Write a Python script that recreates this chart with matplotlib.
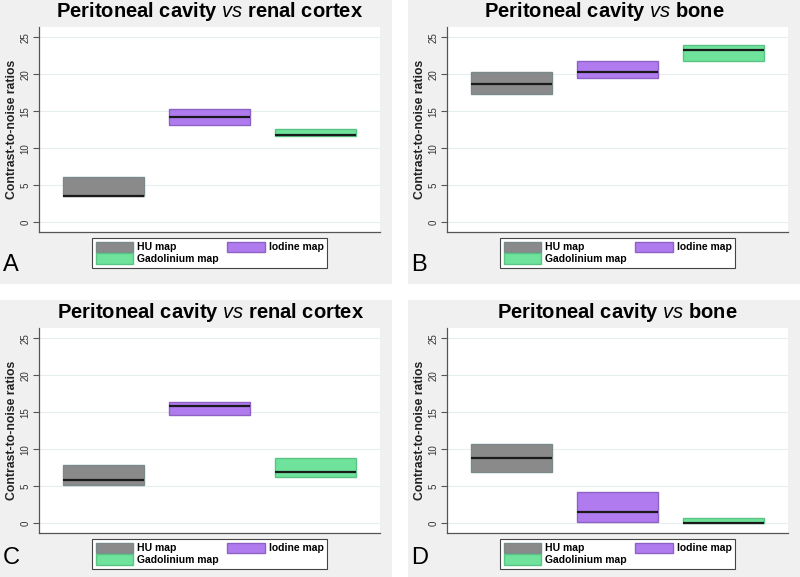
import numpy as np
import matplotlib.pyplot as plt
from matplotlib.patches import Rectangle, Patch

plt.rcParams['font.family'] = ['Liberation Sans', 'DejaVu Sans']
plt.rcParams['mathtext.fontset'] = 'custom'
plt.rcParams['mathtext.it'] = 'Liberation Sans:italic'
plt.rcParams['mathtext.rm'] = 'Liberation Sans'

# data (box = 25th pct, median, 75th pct)
maps = ['HU map', 'Iodine map', 'Gadolinium map']
colors = ['#8a8a8a', '#b07bef', '#6fe39b']
edges = ['#7a8a8a', '#8e62c4', '#5cc387']

titles = ['Peritoneal cavity $\\it{vs}$ renal cortex', 'Peritoneal cavity $\\it{vs}$ bone',
          'Peritoneal cavity $\\it{vs}$ renal cortex', 'Peritoneal cavity $\\it{vs}$ bone']
letters = ['A', 'B', 'C', 'D']

q1_A = [3.5, 13.15, 11.7]
med_A = [3.6, 14.3, 11.8]
q3_A = [6.1, 15.35, 12.65]

q1_B = [17.4, 19.45, 21.85]
med_B = [18.65, 20.3, 23.3]
q3_B = [20.3, 21.8, 23.95]

q1_C = [5.2, 14.7, 6.3]
med_C = [5.8, 15.8, 6.95]
q3_C = [7.85, 16.35, 8.8]

q1_D = [6.9, 0.25, 0.0]
med_D = [8.85, 1.5, 0.05]
q3_D = [10.75, 4.3, 0.7]

q1s = [q1_A, q1_B, q1_C, q1_D]
meds = [med_A, med_B, med_C, med_D]
q3s = [q3_A, q3_B, q3_C, q3_D]

W, H = 800, 577
fig = plt.figure(figsize=(8, 5.77), dpi=100)
fig.patch.set_facecolor('white')

# panel geometry in pixels: (bg x0, bg y0, bg x1, bg y1, ax left, ax top, ax right, ax bottom, title x, title y)
panels = [
    (0, 0, 392, 284, 39, 27, 380, 232, 210, 17),
    (408, 0, 800, 284, 447, 27, 788, 232, 604, 17),
    (0, 300, 392, 577, 39, 328, 380, 533, 211, 318),
    (408, 300, 800, 577, 447, 328, 788, 533, 617, 318),
]

xpos = [0.19, 0.5, 0.81]
bw = 0.2375

for k, p in enumerate(panels):
    bx0, by0, bx1, by1, al, at, ar, ab, tx, ty = p
    fig.patches.append(Rectangle((bx0 / W, 1 - by1 / H), (bx1 - bx0) / W, (by1 - by0) / H,
                                 transform=fig.transFigure, facecolor='#f0f0f0', edgecolor='none', zorder=-5))
    ax = fig.add_axes([al / W, 1 - ab / H, (ar - al) / W, (ab - at) / H])
    ax.set_facecolor('white')
    q1 = np.array(q1s[k])
    q3 = np.array(q3s[k])
    md = np.array(meds[k])
    ax.bar(xpos, q3 - q1, bottom=q1, width=bw, color=colors, edgecolor=edges, linewidth=1, zorder=3)
    ax.hlines(md, np.array(xpos) - bw / 2, np.array(xpos) + bw / 2, color='#1a1a1a', linewidth=1.6, zorder=4)
    ax.set_xlim(0, 1)
    ax.set_ylim(-1.3, 26.4)
    ax.set_yticks([0, 5, 10, 15, 20, 25])
    ax.set_yticklabels(['0', '5', '10', '15', '20', '25'], rotation=90, va='center', fontsize=7, color='#333333')
    ax.set_xticks([])
    ax.grid(axis='y', color='#e6eded', linewidth=0.8, zorder=0)
    ax.set_axisbelow(True)
    ax.tick_params(axis='y', length=4, width=0.8, color='#555555', pad=2)
    for s in ['top', 'right']:
        ax.spines[s].set_visible(False)
    for s in ['left', 'bottom']:
        ax.spines[s].set_color('#555555')
        ax.spines[s].set_linewidth(0.9)
    ax.set_ylabel('Contrast-to-noise ratios', fontsize=8.8, fontweight='bold', color='#222222', labelpad=2)
    fig.text(tx / W, 1 - ty / H, titles[k], ha='center', va='baseline', fontsize=14.5,
             fontweight='bold', color='black')
    fig.text((bx0 + 3) / W, 1 - (by1 - 13) / H, letters[k], ha='left', va='baseline', fontsize=17, color='black')
    handles = [Patch(facecolor=colors[i], edgecolor=edges[i], label=maps[i]) for i in [0, 2, 1]]
    lx = (al + 53) / W
    ly = 1 - (ab + 6) / H
    leg = fig.legend(handles=handles, ncol=2, loc='upper left', bbox_to_anchor=(lx, ly),
                     prop={'weight': 'bold', 'size': 7.5}, frameon=True, fancybox=False,
                     handlelength=3.6, handleheight=1.15, handletextpad=0.4, columnspacing=0.8,
                     labelspacing=0.1, borderpad=0.35, borderaxespad=0)
    leg.get_frame().set_edgecolor('#444444')
    leg.get_frame().set_linewidth(0.8)
    leg.get_frame().set_facecolor('white')
    leg.get_frame().set_alpha(1)

plt.savefig('out.png', dpi=100)
